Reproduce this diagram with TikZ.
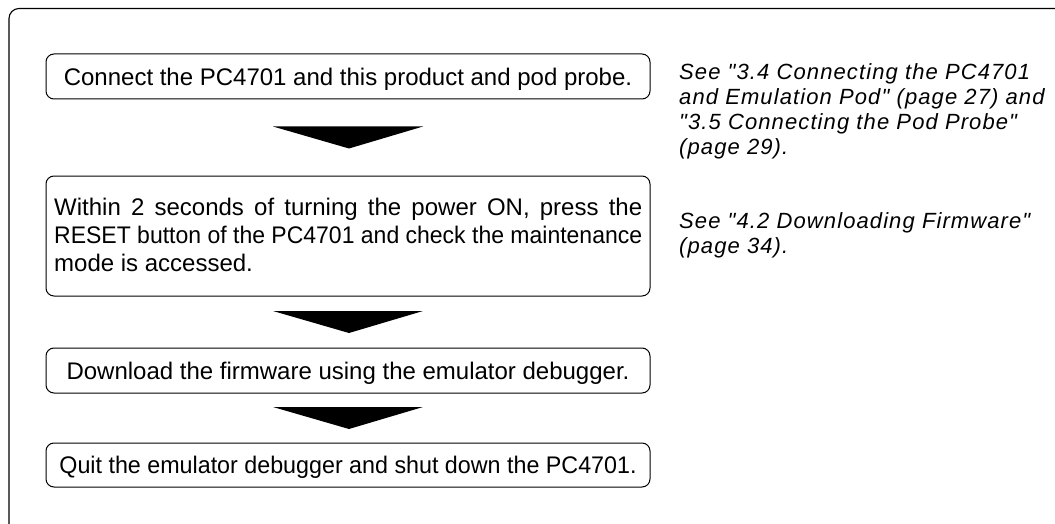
\documentclass[tikz,border=0pt]{standalone}
\usepackage{fontspec}
\usepackage{graphicx}
\setmainfont{Liberation Sans}
\newfontfamily\seefont[LetterSpace=5]{Liberation Sans Italic}
\usetikzlibrary{calc}
\tikzset{
  stepbox/.style={draw, line width=1pt, rounded corners=8pt, minimum width=604pt,
    inner sep=0pt, text height=17.2pt, text depth=0pt,
    font=\fontsize{24}{28}\selectfont},
  seetext/.style={anchor=base west, inner sep=0pt,
    font=\seefont\fontsize{22}{25}\selectfont},
}
\newcommand{\downarrowhead}[2]{%
  \fill ($ (#1.south)!0.5!(#2.north) + (-75,-11) $) --
        ($ (#1.south)!0.5!(#2.north) + (75,-11) $) --
        ($ (#1.south)!0.5!(#2.north) + (1,11) $) -- cycle;}
\begin{document}
\begin{tikzpicture}[x=1pt,y=-1pt]
\useasboundingbox (0,0) rectangle (1055,524);
% outer frame (open to the right and bottom)
\draw[line width=1.1pt, rounded corners=10pt] (1060,8.5) -- (9,8.5) -- (9,530);

\node[stepbox, minimum height=45pt] (b1) at (348,76.5) {Connect the PC4701 and this product and pod probe.};
\node[stepbox, minimum height=120pt, text height=0pt] (b2) at (348,236) {};
\node[anchor=base west, inner sep=0pt, font=\fontsize{24}{28}\selectfont] (b2t) at (54,215)
  {\parbox[t]{588pt}{\baselineskip=28pt
   \makebox[588pt][s]{Within 2 seconds of turning the power ON, press the}\\
   \resizebox{588pt}{\height}{RESET button of the PC4701 and check the maintenance}\\
   mode is accessed.}};
\node[stepbox, minimum height=45pt] (b3) at (348,370.5) {Download the firmware using the emulator debugger.};
\node[stepbox, minimum height=44pt] (b4) at (348,465) {\scalebox{0.97}[1]{Quit the emulator debugger and shut down the PC4701.}};

\downarrowhead{b1}{b2}
\downarrowhead{b2}{b3}
\downarrowhead{b3}{b4}

\node[seetext] (s1) at (679,80) {\parbox[t]{376pt}{\baselineskip=25pt
  See "3.4 Connecting the PC4701\\
  and Emulation Pod" (page 27) and\\
  "3.5 Connecting the Pod Probe"\\
  (page 29).}};
\node[seetext] (s2) at (679,228) {\parbox[t]{376pt}{\baselineskip=25pt
  See "4.2 Downloading Firmware"\\
  (page 34).}};
\end{tikzpicture}
\end{document}
